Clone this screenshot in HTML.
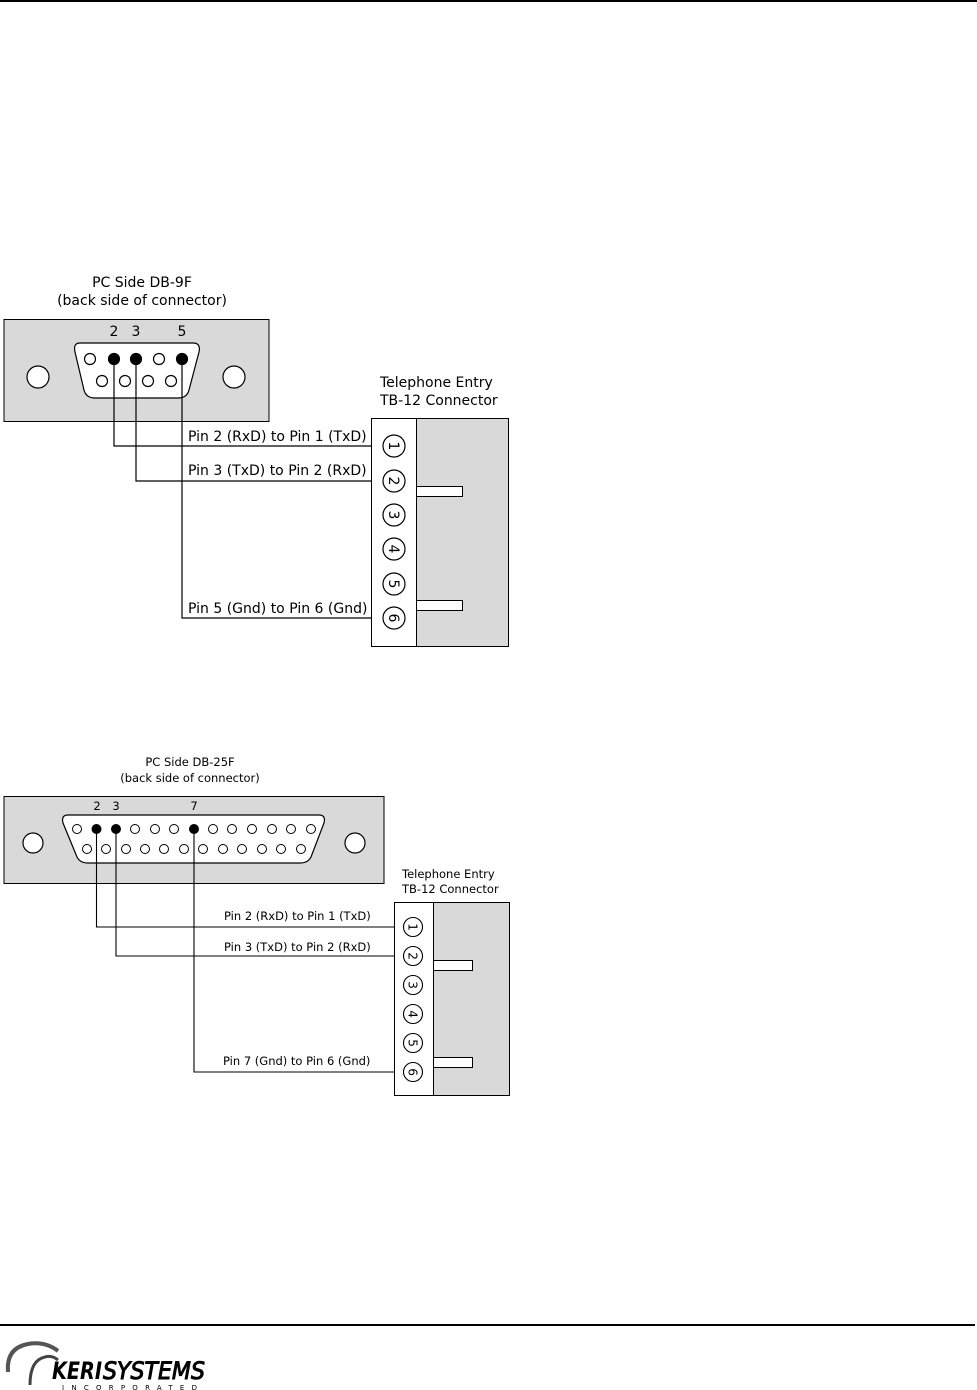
<!DOCTYPE html>
<html><head><meta charset="utf-8"><style>
html,body{margin:0;padding:0;background:#fff;width:977px;height:1390px;overflow:hidden}
svg{display:block}
text{font-family:"DejaVu Sans","Liberation Sans",sans-serif;fill:#000}
</style></head><body>
<svg width="977" height="1390" viewBox="0 0 977 1390" xmlns="http://www.w3.org/2000/svg">
<rect x="0" y="0" width="977" height="2" fill="#000"/>
<rect x="0" y="1324" width="975" height="2" fill="#000"/>

<!-- DB-9 -->
<text x="142" y="287" font-size="14" text-anchor="middle">PC Side DB-9F</text>
<text x="142" y="305" font-size="14" text-anchor="middle">(back side of connector)</text>
<rect x="4" y="319.5" width="265" height="102" fill="#d9d9d9" stroke="#000"/>
<path d="M80 343 Q73 343 75 352 L84 390 Q86 398 95 398 L178 398 Q187 398 189 390 L199 352 Q201 343 193 343 Z" fill="#fff" stroke="#000" stroke-width="1.2"/>
<circle cx="38" cy="377" r="11" fill="#fff" stroke="#000" stroke-width="1.2"/>
<circle cx="234" cy="377" r="11" fill="#fff" stroke="#000" stroke-width="1.2"/>
<g stroke="#000" stroke-width="1.2">
<circle cx="90" cy="359" r="5.5" fill="#fff"/><circle cx="114" cy="359" r="5.5" fill="#000"/><circle cx="136" cy="359" r="5.5" fill="#000"/><circle cx="159" cy="359" r="5.5" fill="#fff"/><circle cx="182" cy="359" r="5.5" fill="#000"/>
<circle cx="102" cy="381" r="5.5" fill="#fff"/><circle cx="125" cy="381" r="5.5" fill="#fff"/><circle cx="148" cy="381" r="5.5" fill="#fff"/><circle cx="171" cy="381" r="5.5" fill="#fff"/>
</g>
<text x="114" y="336" font-size="14" text-anchor="middle">2</text>
<text x="136" y="336" font-size="14" text-anchor="middle">3</text>
<text x="182" y="336" font-size="14" text-anchor="middle">5</text>
<g fill="none" stroke="#000" stroke-width="1.2">
<polyline points="114,359 114,446 383,446"/>
<polyline points="136,359 136,481 383,481"/>
<polyline points="182,359 182,618 383,618"/>
</g>
<text x="188" y="441" font-size="14">Pin 2 (RxD) to Pin 1 (TxD)</text>
<text x="188" y="475" font-size="14">Pin 3 (TxD) to Pin 2 (RxD)</text>
<text x="188" y="613" font-size="14">Pin 5 (Gnd) to Pin 6 (Gnd)</text>
<text x="380" y="387" font-size="14">Telephone Entry</text>
<text x="380" y="405" font-size="14">TB-12 Connector</text>
<rect x="371.5" y="418.5" width="45" height="228" fill="#fff" stroke="#000"/>
<rect x="416.5" y="418.5" width="92" height="228" fill="#d9d9d9" stroke="#000"/>
<rect x="416.5" y="486.5" width="46" height="10" fill="#fff" stroke="#000"/>
<rect x="416.5" y="600.5" width="46" height="10" fill="#fff" stroke="#000"/>
<g font-size="14" text-anchor="middle">
<g transform="translate(394,446)"><circle r="11" fill="#fff" stroke="#000" stroke-width="1.2"/><text transform="rotate(90)" y="5">1</text></g>
<g transform="translate(394,481)"><circle r="11" fill="#fff" stroke="#000" stroke-width="1.2"/><text transform="rotate(90)" y="5">2</text></g>
<g transform="translate(394,515)"><circle r="11" fill="#fff" stroke="#000" stroke-width="1.2"/><text transform="rotate(90)" y="5">3</text></g>
<g transform="translate(394,549)"><circle r="11" fill="#fff" stroke="#000" stroke-width="1.2"/><text transform="rotate(90)" y="5">4</text></g>
<g transform="translate(394,584)"><circle r="11" fill="#fff" stroke="#000" stroke-width="1.2"/><text transform="rotate(90)" y="5">5</text></g>
<g transform="translate(394,618)"><circle r="11" fill="#fff" stroke="#000" stroke-width="1.2"/><text transform="rotate(90)" y="5">6</text></g>
</g>

<!-- DB-25 -->
<text x="190" y="766" font-size="11.5" text-anchor="middle">PC Side DB-25F</text>
<text x="190" y="782" font-size="11.5" text-anchor="middle">(back side of connector)</text>
<rect x="4" y="796.5" width="380" height="87" fill="#d9d9d9" stroke="#000"/>
<path d="M68 815 Q61 815 63 823 L77 857 Q80 863 88 863 L300 863 Q308 863 311 857 L324 823 Q326 815 319 815 Z" fill="#fff" stroke="#000" stroke-width="1.2"/>
<circle cx="33" cy="843" r="10" fill="#fff" stroke="#000" stroke-width="1.2"/>
<circle cx="355" cy="843" r="10" fill="#fff" stroke="#000" stroke-width="1.2"/>
<g stroke="#000" stroke-width="1">
<circle cx="77" cy="829" r="4.5" fill="#fff"/><circle cx="96.5" cy="829" r="4.5" fill="#000"/><circle cx="116" cy="829" r="4.5" fill="#000"/><circle cx="135" cy="829" r="4.5" fill="#fff"/><circle cx="155" cy="829" r="4.5" fill="#fff"/><circle cx="174" cy="829" r="4.5" fill="#fff"/><circle cx="194" cy="829" r="4.5" fill="#000"/><circle cx="213" cy="829" r="4.5" fill="#fff"/><circle cx="232" cy="829" r="4.5" fill="#fff"/><circle cx="252" cy="829" r="4.5" fill="#fff"/><circle cx="272" cy="829" r="4.5" fill="#fff"/><circle cx="291" cy="829" r="4.5" fill="#fff"/><circle cx="311" cy="829" r="4.5" fill="#fff"/>
<circle cx="87" cy="849" r="4.5" fill="#fff"/><circle cx="106" cy="849" r="4.5" fill="#fff"/><circle cx="126" cy="849" r="4.5" fill="#fff"/><circle cx="145" cy="849" r="4.5" fill="#fff"/><circle cx="164" cy="849" r="4.5" fill="#fff"/><circle cx="184" cy="849" r="4.5" fill="#fff"/><circle cx="203" cy="849" r="4.5" fill="#fff"/><circle cx="223" cy="849" r="4.5" fill="#fff"/><circle cx="242" cy="849" r="4.5" fill="#fff"/><circle cx="262" cy="849" r="4.5" fill="#fff"/><circle cx="281" cy="849" r="4.5" fill="#fff"/><circle cx="301" cy="849" r="4.5" fill="#fff"/>
</g>
<text x="97" y="810" font-size="11.5" text-anchor="middle">2</text>
<text x="116" y="810" font-size="11.5" text-anchor="middle">3</text>
<text x="194" y="810" font-size="11.5" text-anchor="middle">7</text>
<g fill="none" stroke="#000" stroke-width="1.1">
<polyline points="96.5,829 96.5,927 404,927"/>
<polyline points="116,829 116,956 404,956"/>
<polyline points="194,829 194,1072 404,1072"/>
</g>
<text x="224" y="920" font-size="11.5">Pin 2 (RxD) to Pin 1 (TxD)</text>
<text x="224" y="951" font-size="11.5">Pin 3 (TxD) to Pin 2 (RxD)</text>
<text x="223" y="1065" font-size="11.5">Pin 7 (Gnd) to Pin 6 (Gnd)</text>
<text x="402" y="878" font-size="11.5">Telephone Entry</text>
<text x="402" y="893" font-size="11.5">TB-12 Connector</text>
<rect x="394.5" y="902.5" width="39" height="193" fill="#fff" stroke="#000"/>
<rect x="433.5" y="902.5" width="76" height="193" fill="#d9d9d9" stroke="#000"/>
<rect x="433.5" y="960.5" width="39" height="10" fill="#fff" stroke="#000"/>
<rect x="433.5" y="1057.5" width="39" height="10" fill="#fff" stroke="#000"/>
<g font-size="12" text-anchor="middle">
<g transform="translate(413,927)"><circle r="9.5" fill="#fff" stroke="#000" stroke-width="1.1"/><text transform="rotate(90)" y="4.5">1</text></g>
<g transform="translate(413,956)"><circle r="9.5" fill="#fff" stroke="#000" stroke-width="1.1"/><text transform="rotate(90)" y="4.5">2</text></g>
<g transform="translate(413,985)"><circle r="9.5" fill="#fff" stroke="#000" stroke-width="1.1"/><text transform="rotate(90)" y="4.5">3</text></g>
<g transform="translate(413,1014)"><circle r="9.5" fill="#fff" stroke="#000" stroke-width="1.1"/><text transform="rotate(90)" y="4.5">4</text></g>
<g transform="translate(413,1043)"><circle r="9.5" fill="#fff" stroke="#000" stroke-width="1.1"/><text transform="rotate(90)" y="4.5">5</text></g>
<g transform="translate(413,1072)"><circle r="9.5" fill="#fff" stroke="#000" stroke-width="1.1"/><text transform="rotate(90)" y="4.5">6</text></g>
</g>

<!-- Logo -->
<path d="M8 1372 Q6 1348 28 1344 Q45 1341 58 1351" fill="none" stroke="#555" stroke-width="4"/>
<path d="M30 1385 Q30 1360 45 1357 Q52 1355 58 1360" fill="none" stroke="#444" stroke-width="3"/>
<text x="52" y="1379" font-size="24" font-weight="bold" font-style="italic" font-family="Liberation Sans, sans-serif" textLength="50" lengthAdjust="spacingAndGlyphs">KERI</text>
<text x="103" y="1379" font-size="24" font-style="italic" font-family="Liberation Sans, sans-serif" fill="#fff" stroke="#000" stroke-width="1" textLength="102" lengthAdjust="spacingAndGlyphs">SYSTEMS</text>
<text x="62" y="1390" font-size="7" font-family="Liberation Sans, sans-serif" textLength="135" lengthAdjust="spacing">INCORPORATED</text>
</svg>
</body></html>
